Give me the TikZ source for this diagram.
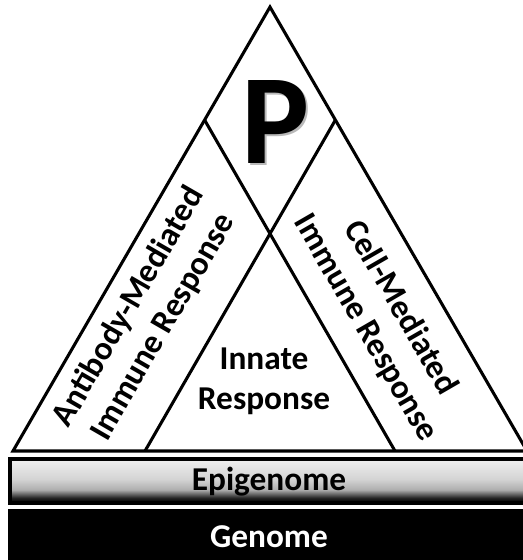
\documentclass[tikz,border=0pt]{standalone}
\usepackage{fontspec}
\setmainfont{Carlito}
\usetikzlibrary{positioning}

\pgfdeclareverticalshading{epiShade}{100bp}{color(0bp)=(black); color(26bp)=(black); color(31bp)=(black!85); color(40bp)=(black!32); color(52bp)=(black!17); color(75bp)=(black!6); color(100bp)=(black!6)}

\tikzstyle{edge} = [draw, line width=2.3pt, line join=miter]
\tikzstyle{sideText} = [font={\bfseries\fontsize{25}{30}\selectfont}, align=center, inner sep=0pt]
\tikzstyle{barText} = [font={\bfseries\fontsize{25}{30}\selectfont}, inner sep=0pt, anchor=base]
\tikzstyle{bigP} = [font={\bfseries\fontsize{96}{96}\selectfont}, inner sep=0pt]

\begin{document}
\begin{tikzpicture}[x=0.75pt, y=-0.75pt]
            \useasboundingbox (0,0) rectangle (523,560);
            % triangle corners and split points
            \coordinate (top) at (270,7);
            \coordinate (baseL) at (13,451);
            \coordinate (baseR) at (527,451);
            \coordinate (splitL) at (204.6,120);
            \coordinate (splitR) at (335.4,120);
            \coordinate (footL) at (145,451);
            \coordinate (footR) at (395,451);
            \draw[edge] (top) -- (baseL) -- (baseR) -- cycle;
            \draw[edge] (splitL) -- (footR);
            \draw[edge] (splitR) -- (footL);
            % layers below
            \shade[shading=epiShade, draw=black, line width=3pt] (10,459) rectangle (530,503);
            \fill[black] (8,509) rectangle (530,565);
            \node[barText] (epi) at (269,490) {Epigenome};
            \node[barText, text=white] (gen) at (269,547) {Genome};
            % labels
            \node[bigP, text=gray!55] (pShadow) at (278,124) {P};
            \node[bigP] (pLetter) at (276,122) {P};
            \node[sideText, rotate=60] (antibody) at (146,317) {Antibody-Mediated\\Immune Response};
            \node[sideText, rotate=-60] (cell) at (383,318) {Cell-Mediated\\Immune Response};
            \node[sideText] (innate) at (264,381) {Innate\\Response};
        \end{tikzpicture}
\end{document}
